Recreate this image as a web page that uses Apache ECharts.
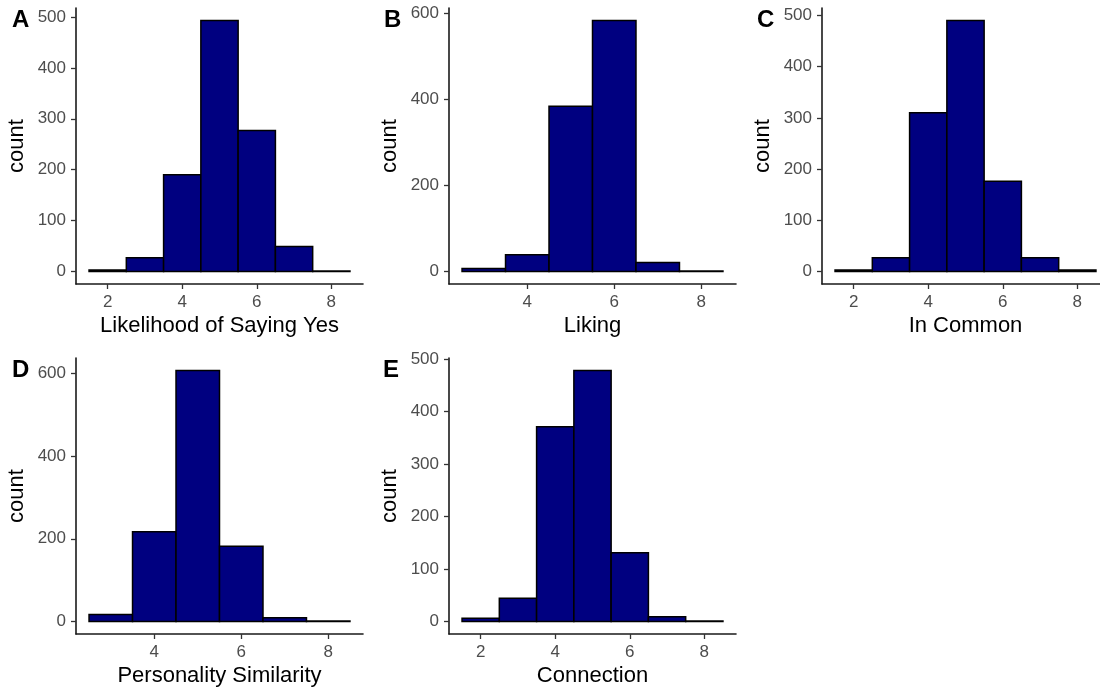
<!DOCTYPE html>
<html>
<head>
<meta charset="utf-8">
<script src="https://cdn.jsdelivr.net/npm/echarts@6/dist/echarts.min.js"></script>
<style>html,body{margin:0;padding:0;background:#fff}#c{width:1100px;height:691px}</style>
</head>
<body>
<div id="c"></div>
<script>
// ---- data ----
const panelLetters = ['A', 'B', 'C', 'D', 'E'];
const xTitles = ['Likelihood of Saying Yes', 'Liking', 'In Common', 'Personality Similarity', 'Connection'];
const yTitle = 'count';
const binsA = [2, 3, 4, 5, 6, 7, 8];
const countsA = [3, 27, 190, 493, 277, 49, 1];
const binsB = [3, 4, 5, 6, 7, 8];
const countsB = [7, 39, 384, 583, 21, 1];
const binsC = [2, 3, 4, 5, 6, 7, 8];
const countsC = [3, 27, 310, 490, 176, 27, 3];
const binsD = [3, 4, 5, 6, 7, 8];
const countsD = [17, 217, 607, 182, 9, 1];
const binsE = [2, 3, 4, 5, 6, 7, 8];
const countsE = [6, 44, 371, 478, 131, 9, 1];
const xTicksA = [2, 4, 6, 8];
const xTicksB = [4, 6, 8];
const xTicksC = [2, 4, 6, 8];
const xTicksD = [4, 6, 8];
const xTicksE = [2, 4, 6, 8];
const yTicksA = [0, 100, 200, 300, 400, 500];
const yTicksB = [0, 200, 400, 600];
const yTicksC = [0, 100, 200, 300, 400, 500];
const yTicksD = [0, 200, 400, 600];
const yTicksE = [0, 100, 200, 300, 400, 500];
const binWidth = 1;

const panels = [
  {bins: binsA, counts: countsA, xt: xTicksA, yt: yTicksA},
  {bins: binsB, counts: countsB, xt: xTicksB, yt: yTicksB},
  {bins: binsC, counts: countsC, xt: xTicksC, yt: yTicksC},
  {bins: binsD, counts: countsD, xt: xTicksD, yt: yTicksD},
  {bins: binsE, counts: countsE, xt: xTicksE, yt: yTicksE}
];
// layout
const gridPos = [
  {left: 76, top: 8}, {left: 449, top: 8}, {left: 822, top: 8},
  {left: 76, top: 358}, {left: 449, top: 358}
];
const letterPos = [[12, 8], [384, 8], [757, 8], [12, 358], [383, 358]];
const GW = 287, GH = 276;

const chart = echarts.init(document.getElementById('c'), null, {renderer: 'canvas'});
const grid = [], xAxis = [], yAxis = [], series = [], graphic = [];
const axisCol = '#1a1a1a', tickCol = '#333333', labCol = '#4d4d4d';
const font = 'Liberation Sans, Arial, sans-serif';

panels.forEach((p, i) => {
  grid.push({left: gridPos[i].left, top: gridPos[i].top, width: GW, height: GH, outerBoundsMode: 'none', containLabel: false});
  const lo = Math.min(...p.bins) - binWidth / 2, hi = Math.max(...p.bins) + binWidth / 2;
  const xpad = 0.05 * (hi - lo);
  const M = Math.max(...p.counts);
  xAxis.push({
    type: 'value', gridIndex: i, min: lo - xpad, max: hi + xpad,
    name: xTitles[i], nameLocation: 'middle', nameGap: 31,
    nameTextStyle: {fontSize: 22, color: '#000', fontFamily: font},
    axisLine: {show: true, onZero: false, lineStyle: {color: axisCol, width: 1.6}},
    axisTick: {show: true, length: 5, customValues: p.xt, lineStyle: {color: tickCol, width: 1.3}},
    axisLabel: {show: true, customValues: p.xt, margin: 10, fontSize: 17, color: labCol, fontFamily: font},
    splitLine: {show: false}
  });
  yAxis.push({
    type: 'value', gridIndex: i, min: -0.05 * M, max: 1.05 * M,
    name: yTitle, nameLocation: 'middle', nameGap: 48, nameRotate: 90,
    nameTextStyle: {fontSize: 22, color: '#000', fontFamily: font},
    axisLine: {show: true, onZero: false, lineStyle: {color: axisCol, width: 1.6}},
    axisTick: {show: true, length: 5, customValues: p.yt, lineStyle: {color: tickCol, width: 1.3}},
    axisLabel: {show: true, customValues: p.yt, margin: 10, fontSize: 17, color: labCol, fontFamily: font},
    splitLine: {show: false}
  });
  series.push({
    type: 'custom', xAxisIndex: i, yAxisIndex: i,
    data: p.bins.map((b, k) => [b, p.counts[k]]),
    renderItem: function (params, api) {
      const x = api.value(0), c = api.value(1);
      const p1 = api.coord([x - binWidth / 2, c]);
      const p2 = api.coord([x + binWidth / 2, 0]);
      return {
        type: 'rect',
        shape: {x: p1[0], y: p1[1], width: p2[0] - p1[0], height: p2[1] - p1[1]},
        style: {fill: '#000080', stroke: '#000000', lineWidth: 1.5}
      };
    },
    silent: true, animation: false
  });
  graphic.push({
    type: 'text', left: letterPos[i][0], top: letterPos[i][1],
    style: {text: panelLetters[i], fontSize: 24, fontWeight: 'bold', fill: '#000', fontFamily: font}
  });
});

chart.setOption({animation: false, grid, xAxis, yAxis, series, graphic});
</script>
</body>
</html>
